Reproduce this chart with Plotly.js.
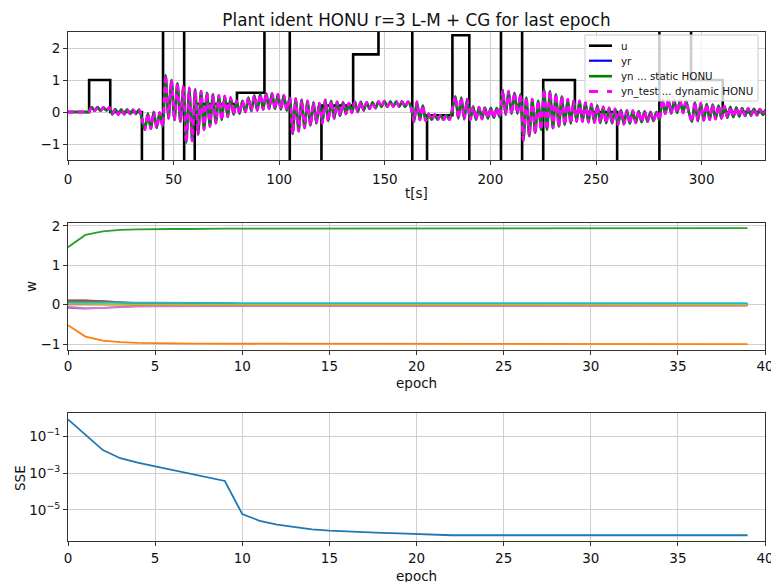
<!DOCTYPE html>
<html>
<head>
<meta charset="utf-8">
<script src="https://cdn.plot.ly/plotly-3.0.1.min.js"></script>
<style>html,body{margin:0;padding:0;background:#fff}#chart{width:771px;height:582px}</style>
</head>
<body>
<div id="chart"></div>
<script>
// ---------- DATA ----------
// top panel: input u (step times / levels)
const uTimes = [0,10,20,35,45,55,60,80,93,105,120,135,147,163,170,182,190,205,215,225,240,260,280,295,310,330];
const uLevels = [0,1,0,-3,3,-3,0.25,0.6,3,-3,0.2,1.8,3,-3,-0.1,2.4,-3,3,-3,1.0,0,-3,3,1.0,0,0];
const ynStep = 1.4;
const ynValues = [0,0,0,0,0,0,0,0,
0.15,0.04,0.15,0.04,0.14,0.05,0.14,
-0.07,0.09,-0.08,0.08,-0.07,0.08,-0.06,0.07,-0.06,0.07,
-0.2,-0.55,-0.05,-0.52,0.0,-0.5,-0.02,-0.45,
1.15,-0.2,1.0,-0.25,0.9,-0.3,0.8,
-0.95,0.75,-0.9,0.7,-0.7,0.65,-0.55,0.6,-0.45,0.55,-0.35,0.52,-0.25,0.5,-0.15,0.45,-0.08,0.35,
-0.05,0.35,0.0,0.45,0.03,0.52,0.05,0.55,0.08,
0.58,0.1,0.58,0.1,0.55,0.08,0.52,0.05,
0.45,-0.68,0.42,-0.6,0.38,-0.5,0.35,-0.42,0.3,-0.35,0.28,
-0.35,0.38,-0.28,0.35,-0.2,0.32,-0.12,0.3,-0.06,0.28,-0.02,
0.32,0.0,0.32,0.05,0.3,0.1,0.3,0.12,
0.33,0.16,0.34,0.16,0.33,0.17,0.33,0.17,0.33,0.16,0.32,0.15,
-0.3,0.32,-0.25,0.2,-0.28,
-0.06,-0.24,-0.08,-0.24,-0.1,-0.24,-0.1,-0.24,
0.1,0.48,-0.2,0.45,-0.22,0.4,
-0.25,0.17,-0.24,0.15,-0.22,0.14,-0.2,0.13,-0.18,0.12,-0.16,
0.68,-0.08,0.65,-0.06,0.6,-0.05,0.55,
-0.88,0.45,-0.75,0.4,-0.65,0.35,-0.55,
0.7,-0.55,0.65,-0.5,0.55,-0.45,0.48,-0.4,0.4,-0.36,0.35,
-0.3,0.35,-0.3,0.3,-0.32,0.25,-0.33,0.2,-0.34,0.16,-0.35,0.13,-0.35,0.1,
-0.4,0.06,-0.38,0.05,-0.36,0.04,-0.34,0.03,-0.32,0.02,-0.3,0.0,-0.28,0.0,
-0.25,0.38,-0.05,0.38,-0.04,0.37,-0.03,0.36,-0.03,0.35,-0.02,
-0.3,0.3,-0.28,0.28,-0.26,0.25,-0.24,0.23,-0.22,0.2,-0.2,
0.18,-0.18,0.16,-0.16,0.14,-0.14,0.12,-0.12,0.11,-0.11,0.1,-0.1,0.09,-0.09,0.08];
const legendNames = ['u','yr','yn ... static HONU','yn_test ... dynamic HONU'];

// middle panel: weights per epoch
const epochs = [0,1,2,3,4,5,6,7,8,9,10,11,12,13,14,15,16,17,18,19,20,21,22,23,24,25,26,27,28,29,30,31,32,33,34,35,36,37,38,39];
const w0 = [0.08,0.08,0.07,0.05,0.04,0.03,0.03,0.02,0.02,0.02,0.02,0.02,0.02,0.02,0.02,0.02,0.02,0.02,0.02,0.02,0.02,0.02,0.02,0.02,0.02,0.02,0.02,0.02,0.02,0.02,0.02,0.02,0.02,0.02,0.02,0.02,0.02,0.02,0.02,0.02];
const w1 = [-0.52,-0.81,-0.91,-0.95,-0.97,-0.98,-0.98,-0.99,-0.99,-0.99,-0.99,-0.99,-0.99,-0.99,-0.99,-0.99,-0.99,-0.99,-0.99,-0.99,-1.0,-1.0,-1.0,-1.0,-1.0,-1.0,-1.0,-1.0,-1.0,-1.0,-1.0,-1.0,-1.0,-1.0,-1.0,-1.0,-1.0,-1.0,-1.0,-1.0];
const w2 = [1.46,1.77,1.86,1.90,1.91,1.92,1.92,1.92,1.93,1.93,1.93,1.93,1.93,1.93,1.93,1.93,1.93,1.93,1.93,1.93,1.94,1.94,1.94,1.94,1.94,1.94,1.94,1.94,1.94,1.94,1.94,1.94,1.94,1.94,1.94,1.94,1.94,1.94,1.94,1.94];
const w3 = [0.10,0.10,0.08,0.05,0.03,0.02,0.01,0.01,0.0,0.0,0.0,0.0,0.0,0.0,0.0,0.0,0.0,0.0,0.0,0.0,0.0,0.0,0.0,0.0,0.0,0.0,0.0,0.0,0.0,0.0,0.0,0.0,0.0,0.0,0.0,0.0,0.0,0.0,0.0,0.0];
const w4 = [-0.08,-0.10,-0.08,-0.05,-0.03,-0.02,-0.01,-0.01,0.0,0.0,0.0,0.0,0.0,0.0,0.0,0.0,0.0,0.0,0.0,0.0,0.0,0.0,0.0,0.0,0.0,0.0,0.0,0.0,0.0,0.0,0.0,0.0,0.0,0.0,0.0,0.0,0.0,0.0,0.0,0.0];
const w5 = [0.11,0.11,0.09,0.06,0.04,0.03,0.02,0.01,0.01,0.0,0.0,0.0,0.0,0.0,0.0,0.0,0.0,0.0,0.0,0.0,0.0,0.0,0.0,0.0,0.0,0.0,0.0,0.0,0.0,0.0,0.0,0.0,0.0,0.0,0.0,0.0,0.0,0.0,0.0,0.0];
const w6 = [-0.05,-0.09,-0.08,-0.06,-0.05,-0.04,-0.04,-0.04,-0.03,-0.03,-0.03,-0.03,-0.03,-0.03,-0.03,-0.03,-0.03,-0.03,-0.03,-0.03,-0.03,-0.03,-0.03,-0.03,-0.03,-0.03,-0.03,-0.03,-0.03,-0.03,-0.03,-0.03,-0.03,-0.03,-0.03,-0.03,-0.03,-0.03,-0.03,-0.03];
const w7 = [0.01,0.0,0.0,0.0,0.0,0.0,0.0,0.0,0.0,0.0,0.0,0.0,0.0,0.0,0.0,0.0,0.0,0.0,0.0,0.0,0.0,0.0,0.0,0.0,0.0,0.0,0.0,0.0,0.0,0.0,0.0,0.0,0.0,0.0,0.0,0.0,0.0,0.0,0.0,0.0];
const w8 = [0.03,0.02,0.01,0.0,0.0,0.0,0.0,0.0,0.0,0.0,0.0,0.0,0.0,0.0,0.0,0.0,0.0,0.0,0.0,0.0,0.0,0.0,0.0,0.0,0.0,0.0,0.0,0.0,0.0,0.0,0.0,0.0,0.0,0.0,0.0,0.0,0.0,0.0,0.0,0.0];
const w9 = [0.06,0.06,0.06,0.06,0.06,0.055,0.05,0.05,0.045,0.045,0.04,0.04,0.04,0.04,0.04,0.04,0.04,0.04,0.04,0.04,0.04,0.04,0.04,0.04,0.04,0.04,0.04,0.04,0.04,0.04,0.04,0.04,0.04,0.04,0.04,0.04,0.04,0.04,0.04,0.04];
const weights = [w0,w1,w2,w3,w4,w5,w6,w7,w8,w9];

// bottom panel: SSE per epoch
const sse = [0.80,0.112,0.0174,0.0063,0.0036,0.0023,0.00145,0.00091,0.00059,0.00037,
6.0e-6,2.6e-6,1.6e-6,1.15e-6,8.9e-7,7.6e-7,6.8e-7,6.2e-7,5.8e-7,5.4e-7,
5.0e-7,4.3e-7,4.3e-7,4.3e-7,4.3e-7,4.3e-7,4.3e-7,4.3e-7,4.3e-7,4.3e-7,
4.3e-7,4.3e-7,4.3e-7,4.3e-7,4.3e-7,4.3e-7,4.3e-7,4.3e-7,4.3e-7,4.3e-7];
const sseTickVals = [1e-1,1e-3,1e-5];
const sseTickText = ['10<sup>−1</sup>','10<sup>−3</sup>','10<sup>−5</sup>'];
const epochTicks = [0,5,10,15,20,25,30,35,40];

// ---------- STYLE ----------
const W = 771, H = 582;
const FONT = 'DejaVu Sans, Verdana, sans-serif';
const mplColors = ['#1f77b4','#ff7f0e','#2ca02c','#d62728','#9467bd','#8c564b','#e377c2','#7f7f7f','#bcbd22','#17becf'];
const xDom = [68/W, 765/W];
const dom = (top, bot) => [1 - bot/H, 1 - top/H];
const px = x => x / W, py = y => 1 - y / H;

const ynTimes = ynValues.map((v,i) => i*ynStep);

const lineStyles = [
  {color:'#000000', width:2.6},
  {color:'#0000ff', width:2.2},
  {color:'#008000', width:2.6},
  {color:'#ff00ff', width:2.8, dash:'6px,4px'}
];

const traces = [];
traces.push({x: uTimes, y: uLevels, type:'scatter', mode:'lines', line:Object.assign({shape:'hv'}, lineStyles[0]), name: legendNames[0], xaxis:'x', yaxis:'y'});
for (let k = 1; k <= 3; k++) {
  traces.push({x: ynTimes, y: ynValues, type:'scatter', mode:'lines', line:Object.assign({shape:'spline', smoothing:0.8}, lineStyles[k]), name: legendNames[k], xaxis:'x', yaxis:'y'});
}
weights.forEach((w,i) => traces.push({x: epochs, y: w, type:'scatter', mode:'lines', line:{color: mplColors[i], width:1.8}, xaxis:'x2', yaxis:'y2'}));
traces.push({x: epochs, y: sse, type:'scatter', mode:'lines', line:{color: mplColors[0], width:1.8}, xaxis:'x3', yaxis:'y3'});

const axBase = {
  showline:true, mirror:true, linecolor:'#333', linewidth:1,
  ticks:'outside', ticklen:4, tickwidth:1, tickcolor:'#333',
  showgrid:true, gridcolor:'#cfcfcf', gridwidth:1, zeroline:false,
  tickfont:{family:FONT, size:13.5, color:'#111'}, automargin:false, fixedrange:true,
  ticklabeloverflow:'allow'
};
const ax = o => Object.assign({}, axBase, o);

// custom legend box (matplotlib style) for the top panel
const legBox = {x0:585, x1:758, y0:35, y1:101};
const legRows = [45.7, 60.7, 76.2, 91.5];
const shapes = [{type:'rect', xref:'paper', yref:'paper', x0:px(legBox.x0), x1:px(legBox.x1), y0:py(legBox.y1), y1:py(legBox.y0),
  fillcolor:'rgba(255,255,255,0.8)', line:{color:'#cccccc', width:1}, layer:'above'}];
const annotations = [];
legendNames.forEach((name,k) => {
  const s = lineStyles[k];
  shapes.push({type:'line', xref:'paper', yref:'paper', x0:px(589), x1:px(612), y0:py(legRows[k]), y1:py(legRows[k]),
    line:{color:s.color, width:s.width, dash: s.dash ? 'dash' : 'solid'}, layer:'above'});
  annotations.push({text:name, x:px(619), y:py(legRows[k]), xref:'paper', yref:'paper', showarrow:false, xanchor:'left', yanchor:'middle',
    font:{family:FONT, size:10.3, color:'#111'}});
});
const labelFont = {family:FONT, size:13.5, color:'#111'};
annotations.push(
  {text:'t[s]', x:px(416.5), y:py(193), xref:'paper', yref:'paper', showarrow:false, xanchor:'center', yanchor:'middle', font:labelFont},
  {text:'epoch', x:px(416.5), y:py(383), xref:'paper', yref:'paper', showarrow:false, xanchor:'center', yanchor:'middle', font:labelFont},
  {text:'epoch', x:px(416.5), y:py(576), xref:'paper', yref:'paper', showarrow:false, xanchor:'center', yanchor:'middle', font:labelFont},
  {text:'w', x:px(31), y:py(287), xref:'paper', yref:'paper', showarrow:false, textangle:-90, xanchor:'center', yanchor:'middle', font:labelFont},
  {text:'SSE', x:px(20), y:py(478), xref:'paper', yref:'paper', showarrow:false, textangle:-90, xanchor:'center', yanchor:'middle', font:labelFont}
);

const layout = {
  width: W, height: H,
  margin:{l:0, r:0, t:0, b:0},
  paper_bgcolor:'#ffffff', plot_bgcolor:'#ffffff',
  font:{family:FONT, color:'#111'},
  title:{text:'Plant ident HONU r=3 L-M + CG for last epoch', font:{family:FONT, size:16.8, color:'#111'},
         x:px(416.5), xref:'paper', xanchor:'center', y:py(20), yref:'container', yanchor:'middle'},
  showlegend:false,
  xaxis: ax({domain:xDom, anchor:'y', range:[0,330], tickvals:[0,50,100,150,200,250,300], ticklabelstandoff:3}),
  yaxis: ax({domain:dom(32,160), anchor:'x', range:[-1.5,2.5], tickvals:[-1,0,1,2]}),
  xaxis2: ax({domain:xDom, anchor:'y2', range:[0,40], tickvals:epochTicks, ticklabelstandoff:0}),
  yaxis2: ax({domain:dom(222.7,350), anchor:'x2', range:[-1.15,2.08], tickvals:[-1,0,1,2]}),
  xaxis3: ax({domain:xDom, anchor:'y3', range:[0,40], tickvals:epochTicks, ticklabelstandoff:1}),
  yaxis3: ax({domain:dom(412.7,540.7), anchor:'x3', type:'log', range:[-6.66,0.26], tickvals:sseTickVals, ticktext:sseTickText}),
  shapes: shapes,
  annotations: annotations
};

Plotly.newPlot('chart', traces, layout, {staticPlot:true, displayModeBar:false});
</script>
</body>
</html>
